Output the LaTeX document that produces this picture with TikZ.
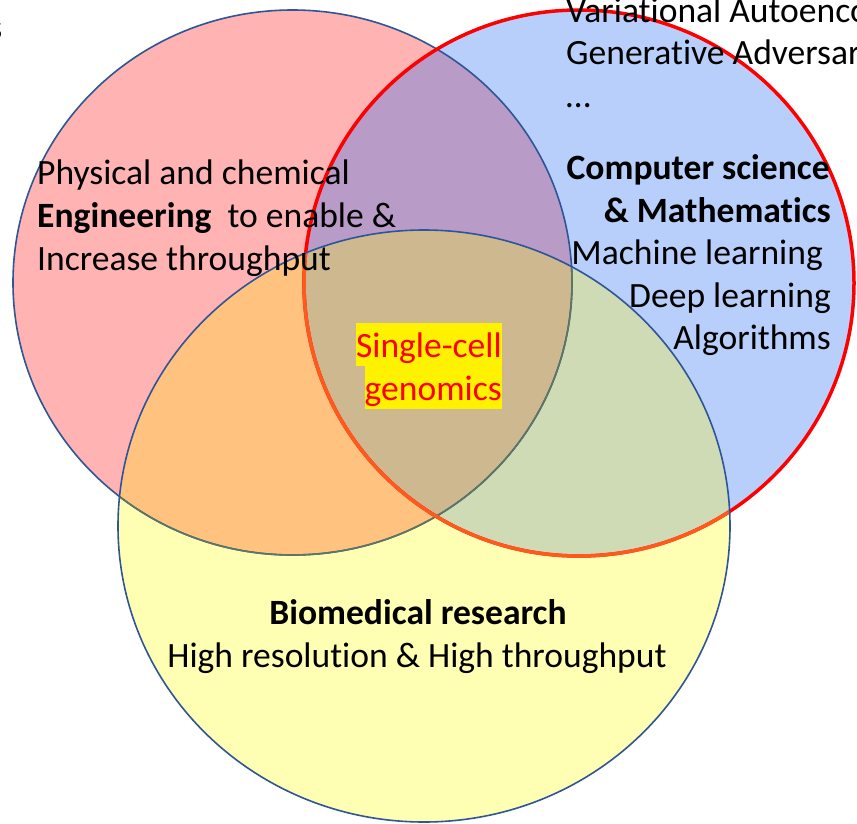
\documentclass[tikz,border=0pt]{standalone}
\usepackage{fontspec}
\setmainfont{Carlito}[Ligatures=NoCommon]

\definecolor{engpink}{HTML}{FFB3B3}
\definecolor{csblue}{HTML}{B8CFFB}
\definecolor{bioyellow}{HTML}{FFFFB3}
\definecolor{engcs}{HTML}{B99BC8}
\definecolor{engbio}{HTML}{FFC27F}
\definecolor{csbio}{HTML}{CFDBB4}
\definecolor{allthree}{HTML}{CDB88F}
\definecolor{rimblue}{HTML}{2F5597}
\definecolor{rimolive}{HTML}{5E7560}
\definecolor{rimorange}{HTML}{FF5A1E}

% the three sets
\newcommand{\engcircle}{(292.5,282.5) ellipse [x radius=279.5, y radius=272.5]}
\newcommand{\cscircle}{(579,283) ellipse [x radius=275, y radius=273]}
\newcommand{\biocircle}{(424,526) ellipse [x radius=306, y radius=296]}

\begin{document}
\begin{tikzpicture}[
    x=1bp,y=-1bp,
    txt/.style={font=\fontsize{35.7}{43}\selectfont,inner sep=0pt},
    hl/.style={txt,fill=yellow,text=red,text height=34bp,text depth=9bp},
    rim/.style={draw=rimblue,line width=1.6bp}
  ]
    \clip (0,0) rectangle (857,824);

    % Fills, one colour per region
    \fill[engpink] \engcircle;
    \fill[csblue] \cscircle;
    \fill[bioyellow] \biocircle;
    \begin{scope}
      \clip \engcircle;
      \fill[engcs] \cscircle;
      \fill[engbio] \biocircle;
    \end{scope}
    \begin{scope}
      \clip \cscircle;
      \fill[csbio] \biocircle;
      \clip \engcircle;
      \fill[allthree] \biocircle;
    \end{scope}

    % Outlines (tinted where they run under the yellow set)
    \draw[rim] \engcircle;
    \draw[red,line width=3.5bp] \cscircle;
    \begin{scope}
      \clip \biocircle;
      \draw[rimolive,line width=1.6bp] \engcircle;
      \draw[rimorange,line width=3.5bp] \cscircle;
    \end{scope}
    \draw[rim] \biocircle;

    % Text running off the page
    \node[txt,anchor=base east] (cut) at (2.5,39) {s};
    \node[txt,anchor=base west] (vae) at (566,22) {Variational Autoencoder};
    \node[txt,anchor=base west] (gan) at (566,64) {Generative Adversarial Network};
    \node[txt,anchor=base west] (dots) at (566,107) {…};

    % Engineering set
    \node[txt,anchor=base west] (phys) at (37,184) {Physical and chemical};
    \node[txt,anchor=base west] (eng) at (37,227) {\textbf{Engineering}\ \ to enable \&};
    \node[txt,anchor=base west] (incr) at (37,270) {Increase throughput};

    % Computer science set
    \node[txt,anchor=base east] (cs) at (830,179) {\textbf{Computer science}};
    \node[txt,anchor=base east] (math) at (831,222) {\textbf{\& Mathematics}};
    \node[txt,anchor=base east] (ml) at (823,264) {Machine learning};
    \node[txt,anchor=base east] (dl) at (831,307) {Deep learning};
    \node[txt,anchor=base east] (algo) at (831,349) {Algorithms};

    % Centre
    \node[hl,anchor=base east] (single) at (502,357) {Single-cell};
    \node[hl,anchor=base east] (genom) at (502,400) {genomics};

    % Biomedical set
    \node[txt,anchor=base] (bio) at (418,624) {\textbf{Biomedical research}};
    \node[txt,anchor=base] (hires) at (417,667) {High resolution \& High throughput};

  \end{tikzpicture}
\end{document}
